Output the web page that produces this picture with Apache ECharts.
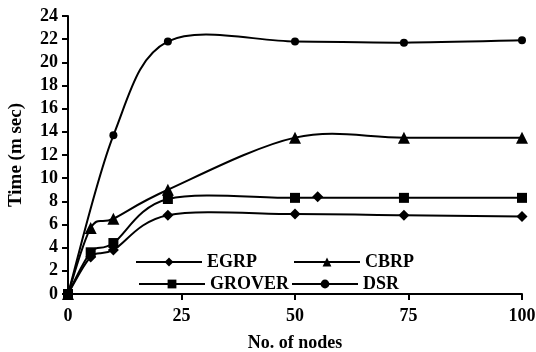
<!DOCTYPE html>
<html>
<head>
<meta charset="utf-8">
<script src="https://cdn.jsdelivr.net/npm/echarts@6/dist/echarts.min.js"></script>
<style>
  html, body { margin: 0; padding: 0; background: #fff; }
  #main { width: 536px; height: 352px; }
</style>
</head>
<body>
<div id="main"></div>
<script>
var nodes = [0, 5, 10, 22, 50, 74, 100];
var egrp = [0, 3.2, 3.8, 6.8, 6.9, 6.8, 6.7];
var grover = [0, 3.6, 4.4, 8.2, 8.3, 8.3, 8.3];
var cbrp = [0, 5.7, 6.5, 9.0, 13.5, 13.5, 13.5];
var dsrNodes = [0, 10, 22, 50, 74, 100];
var dsr = [0, 13.7, 21.8, 21.8, 21.7, 21.9];
// lone diamond drawn next to the GROVER square at 50
var strayPoint = [[55, 8.4]];
var xTicks = [0, 25, 50, 75, 100];

var chartDom = document.getElementById('main');
var myChart = echarts.init(chartDom);
var option;

var font = 'Liberation Serif';

function pairs(xs, ys) {
  return xs.map(function (x, i) { return [x, ys[i]]; });
}

// markers only, the curve itself comes from curveSeries
function markerSeries(name, xs, ys, symbol, size) {
  return {
    name: name,
    type: 'line',
    symbol: symbol,
    symbolSize: size,
    z: 3,
    data: pairs(xs, ys),
    itemStyle: { color: '#000' },
    lineStyle: { color: '#000', width: 2, opacity: 0 }
  };
}

// spreadsheet style smoothed line (catmull-rom through the points)
function curveSeries(name, xs, ys) {
  var pts = pairs(xs, ys);
  return {
    name: name + ' curve',
    type: 'custom',
    z: 2,
    data: pts,
    renderItem: function (params, api) {
      var i = params.dataIndex;
      if (i >= pts.length - 1) return null;
      var p0 = api.coord(pts[Math.max(i - 1, 0)]);
      var p1 = api.coord(pts[i]);
      var p2 = api.coord(pts[i + 1]);
      var p3 = api.coord(pts[Math.min(i + 2, pts.length - 1)]);
      return {
        type: 'bezierCurve',
        shape: {
          x1: p1[0], y1: p1[1],
          x2: p2[0], y2: p2[1],
          cpx1: p1[0] + (p2[0] - p0[0]) / 6,
          cpy1: p1[1] + (p2[1] - p0[1]) / 6,
          cpx2: p2[0] - (p3[0] - p1[0]) / 6,
          cpy2: p2[1] - (p3[1] - p1[1]) / 6
        },
        style: { stroke: '#000', lineWidth: 2, fill: null }
      };
    }
  };
}

var legendText = { fontFamily: font, fontWeight: 'bold', fontSize: 18, color: '#000' };
var legendLine = { color: '#000', width: 2, opacity: 1 };

option = {
  animation: false,
  grid: { left: 68, right: 14, top: 16, bottom: 58, outerBoundsMode: 'none', containLabel: false },
  legend: [
    {
      data: ['EGRP', 'CBRP'],
      left: 135, top: 253, padding: 0,
      itemWidth: 66, itemHeight: 11, itemGap: 36,
      lineStyle: legendLine,
      textStyle: legendText
    },
    {
      data: ['GROVER', 'DSR'],
      left: 138, top: 275, padding: 0,
      itemWidth: 66, itemHeight: 11, itemGap: 2,
      lineStyle: legendLine,
      textStyle: legendText
    }
  ],
  xAxis: {
    type: 'value',
    min: 0, max: 100, interval: 25,
    name: 'No. of nodes',
    nameLocation: 'middle',
    nameGap: 40,
    nameTextStyle: { fontFamily: font, fontWeight: 'bold', fontSize: 18, color: '#000' },
    axisLine: { lineStyle: { color: '#000', width: 2 } },
    axisTick: { show: true, length: 6, lineStyle: { color: '#000', width: 2 } },
    axisLabel: {
      fontFamily: font, fontWeight: 'bold', fontSize: 18, color: '#000', margin: 13,
      formatter: function (v) { return xTicks.indexOf(v) >= 0 ? v : ''; }
    },
    splitLine: { show: false }
  },
  yAxis: {
    type: 'value',
    min: 0, max: 24, interval: 2,
    name: 'Time (m sec)',
    nameLocation: 'middle',
    nameGap: 42,
    nameTextStyle: { fontFamily: font, fontWeight: 'bold', fontSize: 19, color: '#000' },
    axisLine: { show: true, lineStyle: { color: '#000', width: 2 } },
    axisTick: { show: true, length: 6, lineStyle: { color: '#000', width: 2 } },
    axisLabel: { fontFamily: font, fontWeight: 'bold', fontSize: 18, color: '#000', margin: 10 },
    splitLine: { show: false }
  },
  series: [
    curveSeries('DSR', dsrNodes, dsr),
    curveSeries('CBRP', nodes, cbrp),
    curveSeries('GROVER', nodes, grover),
    curveSeries('EGRP', nodes, egrp),
    markerSeries('DSR', dsrNodes, dsr, 'circle', 8),
    markerSeries('CBRP', nodes, cbrp, 'triangle', 12),
    markerSeries('GROVER', nodes, grover, 'rect', 10),
    markerSeries('EGRP', nodes, egrp, 'diamond', 11),
    {
      name: 'stray',
      type: 'scatter',
      symbol: 'diamond',
      symbolSize: 11,
      z: 3,
      itemStyle: { color: '#000', opacity: 1 },
      data: strayPoint
    }
  ]
};

option && myChart.setOption(option);
</script>
</body>
</html>
